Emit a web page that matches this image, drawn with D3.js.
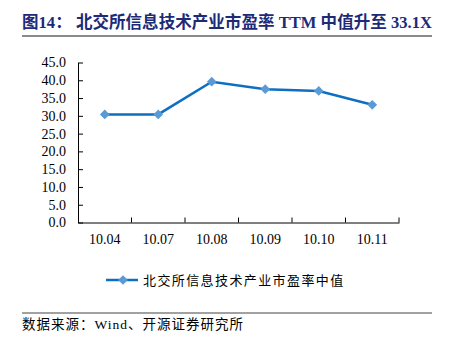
<!DOCTYPE html>
<html><head><meta charset="utf-8">
<script src="https://cdn.jsdelivr.net/npm/d3@7"></script>
<style>
body{margin:0;background:#fff;}
svg{display:block;}
</style></head>
<body>
<svg id="c" width="449" height="345"></svg>
<script>
const categories = ["10.04","10.07","10.08","10.09","10.10","10.11"];
const values = [30.4, 30.4, 39.6, 37.5, 37.0, 33.1];
const yTicks = [0,5,10,15,20,25,30,35,40,45];
const titleText = "图14： 北交所信息技术产业市盈率 TTM 中值升至 33.1X";
const seriesName = "北交所信息技术产业市盈率中值";
const sourceText = "数据来源：Wind、开源证券研究所";

const svg = d3.select("#c");
const serif = "'Liberation Serif','Times New Roman','Noto Sans CJK SC',serif";
const cjk = "'Noto Sans CJK SC','Liberation Serif',sans-serif";

// title
svg.append("text").attr("x",22).attr("y",28)
  .attr("font-family",serif).attr("font-weight","bold").attr("font-size",16.5)
  .attr("textLength",410).attr("lengthAdjust","spacing")
  .attr("fill","#1c2a78").text(titleText);
svg.append("line").attr("x1",22).attr("x2",432).attr("y1",36).attr("y2",36)
  .attr("stroke","#8a8a8a").attr("stroke-width",2);

const x = d3.scaleBand().domain(categories).range([78,399]);
const y = d3.scaleLinear().domain([0,45]).range([222.5,62.5]);

const gy = svg.append("g").attr("transform","translate(78,0)")
  .call(d3.axisLeft(y).tickValues(yTicks).tickFormat(d3.format(".1f")).tickSize(5).tickSizeOuter(0));
gy.attr("font-size",null).attr("font-family",null);
gy.select(".domain").attr("stroke","#000");
gy.selectAll(".tick line").attr("x1",0).attr("x2",5).attr("stroke","#000");
gy.selectAll(".tick text").attr("x",-12).style("font-family",serif).style("font-size","14px").attr("fill","#000");

const gx = svg.append("g").attr("transform","translate(0,222.5)")
  .call(d3.axisBottom(x).tickSize(0).tickSizeOuter(0));
gx.attr("font-size",null).attr("font-family",null);
gx.select(".domain").attr("stroke","#000");
gx.selectAll(".tick text").attr("y",12).style("font-family",serif).style("font-size","14px").attr("fill","#000");
// tick marks at band boundaries
const bounds = categories.map(c=>x(c)+x.bandwidth());
svg.append("g").selectAll("line").data(bounds).join("line")
  .attr("x1",d=>d).attr("x2",d=>d).attr("y1",222.5).attr("y2",217.5).attr("stroke","#000");

const line = d3.line().x((d,i)=>x(categories[i])+x.bandwidth()/2).y(d=>y(d));
svg.append("path").datum(values).attr("d",line).attr("fill","none")
  .attr("stroke","#0e6fc1").attr("stroke-width",2.5);
const diamond = d3.symbol().type(d3.symbolDiamond2).size(60);
svg.append("g").selectAll("path").data(values).join("path")
  .attr("transform",(d,i)=>`translate(${x(categories[i])+x.bandwidth()/2},${y(d)})`)
  .attr("d",diamond).attr("fill","#5b9bd5");

// legend
svg.append("line").attr("x1",106).attr("x2",138).attr("y1",280).attr("y2",280)
  .attr("stroke","#0e6fc1").attr("stroke-width",2.5);
svg.append("path").attr("transform","translate(123,280)").attr("d",diamond).attr("fill","#5b9bd5");
svg.append("text").attr("x",143).attr("y",285).style("font-family",cjk).style("font-size","13px")
  .style("letter-spacing","1.4px").attr("fill","#000").text(seriesName);

// source
svg.append("line").attr("x1",22).attr("x2",432).attr("y1",313).attr("y2",313)
  .attr("stroke","#444").attr("stroke-width",1.2);
svg.append("text").attr("x",22).attr("y",329).style("font-family",serif).style("font-size","13.5px")
  .style("letter-spacing","1px").attr("fill","#000").text(sourceText);
</script>
</body></html>
